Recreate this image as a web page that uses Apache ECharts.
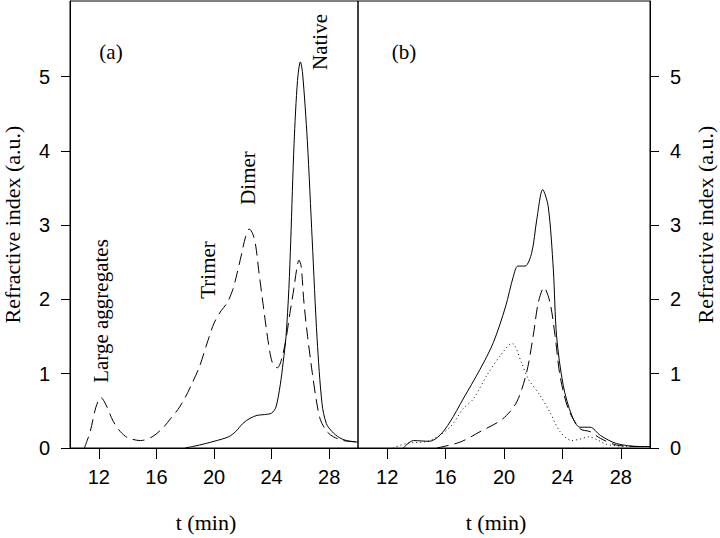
<!DOCTYPE html>
<html>
<head>
<meta charset="utf-8">
<script src="https://cdn.jsdelivr.net/npm/echarts@6/dist/echarts.min.js"></script>
<style>
  html, body { margin: 0; padding: 0; background: #fff; }
  #chart { width: 720px; height: 538px; }
</style>
</head>
<body>
<div id="chart"></div>
<script>
// tick labels
const xTicks = [12, 16, 20, 24, 28]
const yTicks = [0, 1, 2, 3, 4, 5]

// panel (a), dashed curve: aggregates / trimer / dimer / native
const aDashT = [11.0, 11.4, 11.8, 12.15, 12.5, 13.0, 13.5, 14.0, 14.9, 15.7, 16.5, 17.0, 17.5, 18.0, 18.5, 19.0, 19.5, 20.0, 20.5, 20.9, 21.3, 21.6, 21.9, 22.2, 22.45, 22.7, 22.9, 23.1, 23.4, 23.75, 24.05, 24.4, 24.7, 25.0, 25.3, 25.55, 25.75, 25.9, 26.05, 26.25, 26.5, 26.82, 27.1, 27.39, 27.85, 28.3, 29.0, 30.0]
const aDashV = [0, 0.22, 0.55, 0.68, 0.58, 0.36, 0.22, 0.14, 0.10, 0.15, 0.28, 0.40, 0.52, 0.68, 0.88, 1.10, 1.40, 1.68, 1.85, 1.95, 2.13, 2.35, 2.60, 2.85, 2.95, 2.88, 2.72, 2.40, 1.95, 1.45, 1.15, 1.08, 1.20, 1.47, 1.85, 2.15, 2.42, 2.53, 2.45, 1.95, 1.50, 1.02, 0.65, 0.38, 0.22, 0.15, 0.10, 0.08]

// panel (a), solid curve
const aSolidT = [18.0, 18.5, 19.0, 20.0, 21.0, 21.5, 22.0, 22.5, 23.0, 23.5, 24.0, 24.3, 24.6, 24.8, 25.0, 25.2, 25.33, 25.56, 25.8, 26.0, 26.15, 26.48, 26.82, 27.16, 27.5, 27.8, 28.2, 28.7, 29.2, 30.0]
const aSolidV = [0, 0.02, 0.04, 0.09, 0.15, 0.22, 0.33, 0.40, 0.44, 0.45, 0.47, 0.55, 0.85, 1.15, 1.50, 2.15, 2.80, 4.10, 4.95, 5.20, 5.05, 4.14, 2.80, 1.47, 0.60, 0.33, 0.22, 0.14, 0.10, 0.08]

// panel (b), solid curve
const bSolidT = [13.1, 13.8, 14.9, 15.6, 16.3, 17.2, 18.36, 19.27, 20.1, 20.64, 20.95, 21.44, 21.9, 22.24, 22.65, 23.03, 23.38, 23.6, 24.06, 24.64, 25.2, 25.9, 26.6, 27.7, 29.3, 30.0]
const bSolidV = [0, 0.10, 0.09, 0.17, 0.35, 0.66, 1.06, 1.42, 1.90, 2.31, 2.45, 2.45, 2.63, 3.07, 3.48, 3.25, 2.40, 1.51, 0.84, 0.44, 0.28, 0.28, 0.17, 0.06, 0.02, 0.02]

// panel (b), dashed curve
const bDashT = [15.4, 17.0, 18.36, 19.9, 20.87, 21.55, 22.0, 22.35, 22.74, 23.15, 23.5, 23.84, 24.4, 25.2, 25.9, 26.6, 27.7, 29.3, 30.0]
const bDashV = [0, 0.08, 0.22, 0.39, 0.62, 1.02, 1.51, 1.96, 2.16, 1.96, 1.51, 0.97, 0.53, 0.26, 0.22, 0.13, 0.04, 0.02, 0.02]

// panel (b), dotted curve
const bDotT = [12.4, 13.3, 14.9, 16.3, 17.2, 17.9, 18.8, 19.73, 20.55, 21.2, 21.66, 22.47, 23.15, 23.84, 24.64, 25.2, 25.8, 26.4, 27.0, 28.5, 30.0]
const bDotV = [0, 0.06, 0.10, 0.28, 0.53, 0.66, 0.97, 1.24, 1.41, 1.15, 0.93, 0.71, 0.48, 0.22, 0.10, 0.12, 0.15, 0.11, 0.05, 0.02, 0.02]

const zip = (t, v) => t.map((x, i) => [x, v[i]])

const tickFont = 'Liberation Sans'
const serif = 'Liberation Serif'

function xAxisFor(idx) {
  return {
    type: 'value',
    gridIndex: idx,
    min: 10,
    max: 30,
    name: 't (min)',
    nameLocation: 'middle',
    nameGap: 63,
    nameTextStyle: { fontFamily: serif, fontSize: 22, color: '#000', padding: [0, 16, 0, 0] },
    axisLine: { lineStyle: { color: '#000', width: 1 } },
    axisTick: { customValues: xTicks, length: 11, lineStyle: { color: '#000' } },
    axisLabel: { customValues: xTicks, margin: 19, fontFamily: tickFont, fontSize: 20, color: '#000' },
    splitLine: { show: false }
  }
}

function yAxisFor(idx, pos) {
  return {
    type: 'value',
    gridIndex: idx,
    position: pos,
    min: 0,
    max: 6.02,
    name: 'Refractive index (a.u.)',
    nameLocation: 'middle',
    nameRotate: 90,
    nameGap: pos === 'left' ? 47 : 44,
    nameTextStyle: { fontFamily: serif, fontSize: 22, color: '#000' },
    axisLine: { show: true, lineStyle: { color: '#000', width: 1 } },
    axisTick: { customValues: yTicks, length: 9, lineStyle: { color: '#000' } },
    axisLabel: { customValues: yTicks, margin: 20, fontFamily: tickFont, fontSize: 20, color: '#000' },
    splitLine: { show: false }
  }
}

function lineSeries(x, y, data, type) {
  return {
    type: 'line',
    xAxisIndex: x,
    yAxisIndex: y,
    data: data,
    showSymbol: false,
    smooth: 0.3,
    lineStyle: { color: '#000', width: 1, type: type },
    silent: true
  }
}

const textStyle = { font: '21px "Liberation Serif"', fill: '#000', textAlign: 'center', textVerticalAlign: 'middle' }
const note = (txt, x, y, rot) => ({
  type: 'text', x: x, y: y, rotation: rot ? Math.PI / 2 : 0,
  style: Object.assign({ text: txt }, textStyle)
})

const chart = echarts.init(document.getElementById('chart'), null, { renderer: 'svg' })
chart.setOption({
  animation: false,
  backgroundColor: '#fff',
  grid: [
    { left: 67, right: 362, top: 1, bottom: 88, show: true, borderColor: '#000', borderWidth: 1 },
    { left: 358, right: 70, top: 1, bottom: 88, show: true, borderColor: '#000', borderWidth: 1 }
  ],
  xAxis: [xAxisFor(0), xAxisFor(1)],
  yAxis: [yAxisFor(0, 'left'), yAxisFor(1, 'right')],
  series: [
    lineSeries(0, 0, zip(aDashT, aDashV), [12, 6]),
    lineSeries(0, 0, zip(aSolidT, aSolidV), 'solid'),
    lineSeries(1, 1, zip(bSolidT, bSolidV), 'solid'),
    lineSeries(1, 1, zip(bDashT, bDashV), [12, 6]),
    lineSeries(1, 1, zip(bDotT, bDotV), [1, 3])
  ],
  graphic: [
    note('(a)', 111, 52),
    note('(b)', 404, 52),
    note('Native', 320, 42, true),
    note('Dimer', 248, 178, true),
    note('Trimer', 208, 270, true),
    note('Large aggregates', 101, 311, true)
  ]
})
</script>
</body>
</html>
